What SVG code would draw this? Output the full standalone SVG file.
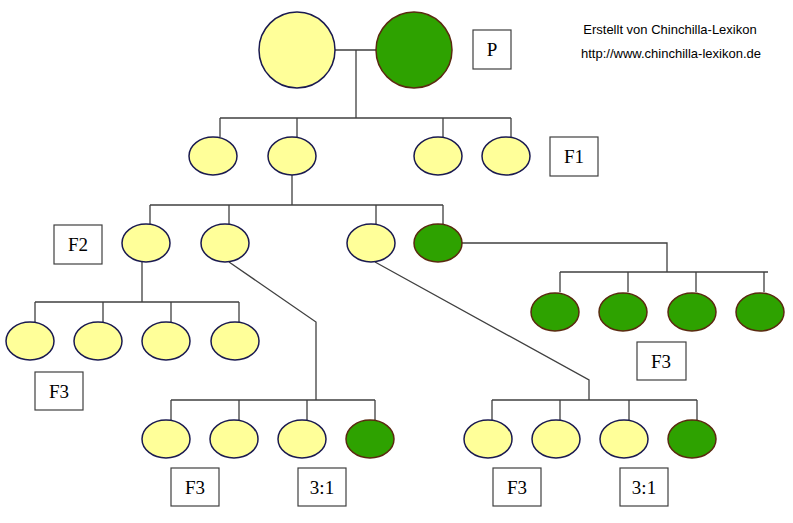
<svg xmlns="http://www.w3.org/2000/svg" width="793" height="523" viewBox="0 0 793 523">
<style>
.y{fill:#ffff99;stroke:#1a1a50;stroke-width:1.5}
.g{fill:#2ea200;stroke:#5a2a10;stroke-width:1.5}
.c{fill:none;stroke:#404040;stroke-width:1.3}
.b{fill:#fff;stroke:#404040;stroke-width:1.2}
.t{font-family:"Liberation Serif",serif;font-size:19px;text-anchor:middle;fill:#000}
.s{font-family:"Liberation Sans",sans-serif;font-size:13px;text-anchor:middle;fill:#000}
</style>
<rect width="793" height="523" fill="#fff"/>
<g id="connectors" class="c">
<path d="M335,50H376M356,50V118M220,118H511M220,118V137M297,118V137M443,118V137M511,118V137"/>
<path d="M292,175V205M150,205H443M150,205V224M229,205V224M376,205V224M443,205V224"/>
<path d="M462,243H667V272M560,272H768M560,272V292M628,272V292M696,272V292M764,272V292"/>
<path d="M142,262V302M35,302H239M35,302V322M103,302V322M171,302V322M239,302V322"/>
<path d="M229,262L316,322V400M171,400H375M171,400V420M239,400V420M307,400V420M375,400V420"/>
<path d="M375,262L589,380V400M492,400H697M492,400V420M560,400V420M629,400V420M697,400V420"/>
</g>
<g id="p1"><circle class="y" cx="297" cy="50" r="38"/></g>
<g id="p2"><circle class="g" cx="414" cy="50" r="38"/></g>
<g id="f1"><ellipse class="y" cx="213" cy="156" rx="24" ry="19"/><ellipse class="y" cx="292" cy="156" rx="24" ry="19"/><ellipse class="y" cx="438" cy="156" rx="24" ry="19"/><ellipse class="y" cx="506" cy="156" rx="24" ry="19"/></g>
<g id="f2"><ellipse class="y" cx="146" cy="243" rx="24" ry="19"/><ellipse class="y" cx="225" cy="243" rx="24" ry="19"/><ellipse class="y" cx="371" cy="243" rx="24" ry="19"/><ellipse class="g" cx="438" cy="243" rx="24" ry="19"/></g>
<g id="f3a"><ellipse class="y" cx="30" cy="341" rx="24" ry="19"/><ellipse class="y" cx="98" cy="341" rx="24" ry="19"/><ellipse class="y" cx="166" cy="341" rx="24" ry="19"/><ellipse class="y" cx="235" cy="341" rx="24" ry="19"/></g>
<g id="f3b"><ellipse class="g" cx="555" cy="312" rx="24" ry="19"/><ellipse class="g" cx="623" cy="312" rx="24" ry="19"/><ellipse class="g" cx="692" cy="312" rx="24" ry="19"/><ellipse class="g" cx="760" cy="312" rx="24" ry="19"/></g>
<g id="f3c"><ellipse class="y" cx="166" cy="439" rx="24" ry="19"/><ellipse class="y" cx="234" cy="439" rx="24" ry="19"/><ellipse class="y" cx="302" cy="439" rx="24" ry="19"/><ellipse class="g" cx="370" cy="439" rx="24" ry="19"/></g>
<g id="f3d"><ellipse class="y" cx="488" cy="439" rx="24" ry="19"/><ellipse class="y" cx="556" cy="439" rx="24" ry="19"/><ellipse class="y" cx="624" cy="439" rx="24" ry="19"/><ellipse class="g" cx="692" cy="439" rx="24" ry="19"/></g>
<g id="labels">
<rect class="b" x="473" y="30" width="38" height="39"/><text class="t" x="492" y="56">P</text>
<rect class="b" x="550" y="137" width="48" height="39"/><text class="t" x="574" y="163">F1</text>
<rect class="b" x="54" y="225" width="48" height="39"/><text class="t" x="78" y="251">F2</text>
<rect class="b" x="637" y="342" width="49" height="38"/><text class="t" x="661" y="368">F3</text>
<rect class="b" x="35" y="372" width="48" height="38"/><text class="t" x="59" y="398">F3</text>
<rect class="b" x="171" y="468" width="48" height="38"/><text class="t" x="195" y="494">F3</text>
<rect class="b" x="298" y="468" width="48" height="38"/><text class="t" x="322" y="494">3:1</text>
<rect class="b" x="493" y="468" width="48" height="38"/><text class="t" x="517" y="494">F3</text>
<rect class="b" x="620" y="468" width="48" height="38"/><text class="t" x="644" y="494">3:1</text>
<text class="s" x="670" y="34">Erstellt von Chinchilla-Lexikon</text>
<text class="s" x="671" y="58">http://www.chinchilla-lexikon.de</text>
</g>
</svg>
